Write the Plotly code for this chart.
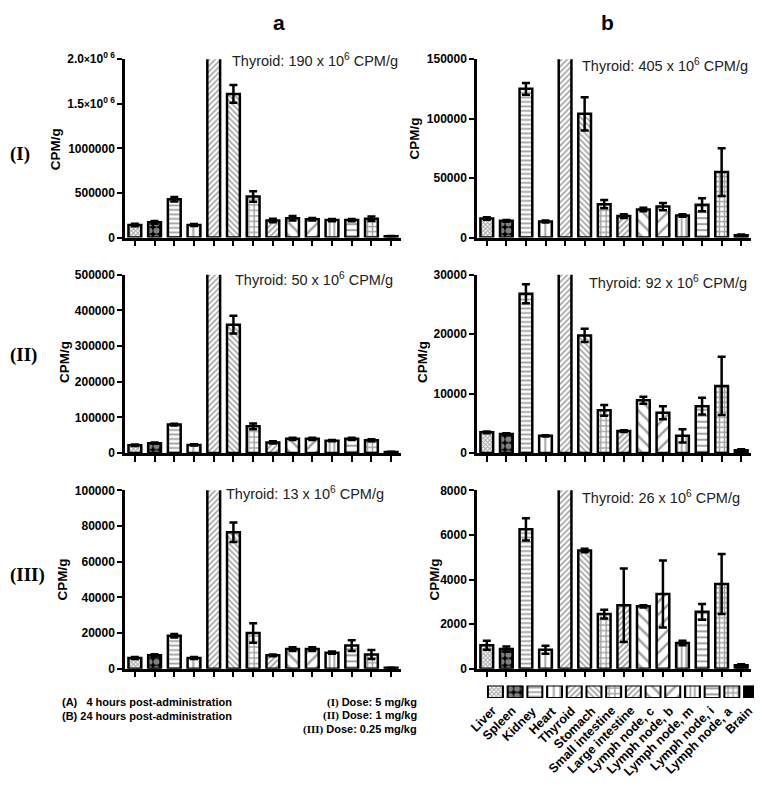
import plotly.graph_objects as go

# ---------------- data ----------------
organs = ["Liver", "Spleen", "Kidney", "Heart", "Thyroid", "Stomach", "Small intestine",
          "Large intestine", "Lymph node, c", "Lymph node, b", "Lymph node, m",
          "Lymph node, i", "Lymph node, a", "Brain"]

a_I_mean = [140000, 170000, 430000, 140000, 190e6, 1610000, 460000, 190000, 215000, 205000, 195000, 195000, 210000, 15000]
a_I_err = [15000, 15000, 25000, 12000, 0, 100000, 60000, 20000, 25000, 15000, 12000, 12000, 25000, 3000]

b_I_mean = [16000, 14000, 125000, 13500, 405e6, 104000, 28000, 18000, 23500, 26000, 18500, 27500, 55000, 2000]
b_I_err = [1000, 800, 5000, 800, 0, 14000, 3500, 1500, 1500, 3000, 1000, 5500, 20000, 500]

a_II_mean = [22000, 28000, 80000, 23000, 50e6, 360000, 75000, 30000, 40000, 40000, 35000, 40000, 36000, 3000]
a_II_err = [2000, 2000, 2500, 2000, 0, 25000, 8000, 3000, 3000, 3000, 2000, 3000, 3000, 500]

b_II_mean = [3500, 3200, 26800, 2900, 92e6, 19800, 7200, 3700, 8900, 6800, 2900, 7900, 11300, 500]
b_II_err = [150, 150, 1600, 100, 0, 1100, 900, 150, 600, 1100, 1100, 1400, 4900, 150]

a_III_mean = [6000, 7500, 18500, 6000, 13e6, 76500, 20000, 7500, 11000, 11000, 9000, 13000, 8000, 500]
a_III_err = [500, 600, 1000, 500, 0, 5500, 5500, 500, 1000, 1000, 600, 3000, 2500, 100]

b_III_mean = [1050, 880, 6250, 850, 26e6, 5300, 2450, 2850, 2800, 3350, 1150, 2550, 3800, 150]
b_III_err = [200, 120, 500, 180, 0, 80, 200, 1650, 50, 1500, 100, 350, 1350, 50]

a_I_ticks = [0, 500000, 1000000, 1500000, 2000000]
a_I_ticktext = ["0", "500000", "1000000", "1.5<span style='font-size:10px'>×</span>10<sup>0 6</sup>",
                "2.0<span style='font-size:10px'>×</span>10<sup>0 6</sup>"]
b_I_ticks = [0, 50000, 100000, 150000]
a_II_ticks = [0, 100000, 200000, 300000, 400000, 500000]
b_II_ticks = [0, 10000, 20000, 30000]
a_III_ticks = [0, 20000, 40000, 60000, 80000, 100000]
b_III_ticks = [0, 2000, 4000, 6000, 8000]

thyroid_text = ["Thyroid: 190 x 10<sup>6</sup> CPM/g", "Thyroid: 405 x 10<sup>6</sup> CPM/g",
                "Thyroid: 50 x 10<sup>6</sup> CPM/g", "Thyroid: 92 x 10<sup>6</sup> CPM/g",
                "Thyroid: 13 x 10<sup>6</sup> CPM/g", "Thyroid: 26 x 10<sup>6</sup> CPM/g"]

# ---------------- styling ----------------
W, H = 762, 801
OFF = 8  # page body margin: figure is drawn 8px right/down in the window
SANS = "Liberation Sans, Arial, sans-serif"
SERIF = "Liberation Serif, Times New Roman, serif"


def px(x):
    return min(max((x - OFF) / W, 0.0), 1.0)


def py(y):
    return min(max(1 - (y - OFF) / H, 0.0), 1.0)


pat_shape = ["x", ".", "-", "|", "/", "\\", "+", "/", "\\", "/", "|", "-", "+", ""]
pat_size = [3, 7, 4.5, 6.5, 4, 4, 5.5, 4, 9, 9, 4.5, 6, 5, 5]
pat_solid = [0.55, 0.6, 0.4, 0.3, 0.4, 0.4, 0.47, 0.45, 0.28, 0.28, 0.4, 0.35, 0.5, 0.3]
pat_fg = ["black", "white", "black", "black", "#222", "#222", "black", "#777", "black", "black",
          "black", "black", "black", "black"]
bar_color = ["white", "black"] + ["white"] * 11 + ["black"]

col_x = [(125, 401), (477, 751)]
row_y = [(51, 233), (271, 453), (491, 673)]

panels = [
    (0, 0, a_I_mean, a_I_err, [0, 2000000], a_I_ticks, a_I_ticktext),
    (1, 0, b_I_mean, b_I_err, [0, 150000], b_I_ticks, None),
    (0, 1, a_II_mean, a_II_err, [0, 500000], a_II_ticks, None),
    (1, 1, b_II_mean, b_II_err, [0, 30000], b_II_ticks, None),
    (0, 2, a_III_mean, a_III_err, [0, 100000], a_III_ticks, None),
    (1, 2, b_III_mean, b_III_err, [0, 8000], b_III_ticks, None),
]

fig = go.Figure()
layout = {}
for k, (c, r, mean, err, yr, tv, tt) in enumerate(panels, start=1):
    xs = "x" if k == 1 else f"x{k}"
    ys = "y" if k == 1 else f"y{k}"
    fig.add_trace(go.Bar(
        x=organs, y=mean, xaxis=xs, yaxis=ys, width=0.65,
        marker=dict(color=bar_color, line=dict(color="black", width=2.5),
                    pattern=dict(shape=pat_shape, size=pat_size, solidity=pat_solid,
                                 fgcolor=pat_fg, fillmode="overlay")),
        error_y=dict(type="data", array=err, visible=True, color="black", thickness=2.5, width=4),
        showlegend=False, hoverinfo="x+y",
    ))
    x0, x1 = col_x[c]
    y0, y1 = row_y[r]
    layout[f"xaxis{'' if k == 1 else k}"] = dict(
        domain=[px(x0), px(x1)], anchor=ys, type="category", categoryorder="array",
        categoryarray=organs, range=[-0.5, 13.5], showline=True, linecolor="black", linewidth=2.5,
        ticks="outside", ticklen=6, tickwidth=2, tickcolor="black", showticklabels=False,
        showgrid=False, zeroline=False, fixedrange=True)
    layout[f"yaxis{'' if k == 1 else k}"] = dict(
        domain=[py(y1), py(y0)], anchor=xs, range=yr, showline=True, linecolor="black",
        linewidth=2.5, ticks="outside", ticklen=5, tickwidth=2, tickcolor="black",
        tickvals=tv, ticktext=tt if tt else [str(v) for v in tv],
        tickfont=dict(family=SANS, size=12, color="black", weight="bold"),
        showgrid=False, zeroline=False, fixedrange=True)

# legend strip (patterned boxes); names placed as rotated annotations below
fig.add_trace(go.Bar(
    x=organs, y=[1] * 14, xaxis="x7", yaxis="y7", width=0.76,
    marker=dict(color=bar_color, line=dict(color="black", width=2),
                pattern=dict(shape=pat_shape, size=pat_size, solidity=pat_solid,
                             fgcolor=pat_fg, fillmode="overlay")),
    showlegend=False, hoverinfo="x"))
LEG_X0, LEG_STEP = 485.6, 19.7
layout["xaxis7"] = dict(domain=[px(LEG_X0), px(LEG_X0 + 14 * LEG_STEP)], anchor="y7",
                        type="category", categoryorder="array", categoryarray=organs,
                        range=[-0.5, 13.5], visible=False, fixedrange=True)
layout["yaxis7"] = dict(domain=[py(703), py(690)], anchor="x7", range=[0, 1], visible=False,
                        fixedrange=True)

ann = []
for i, name in enumerate(organs):
    cx = LEG_X0 + LEG_STEP * (i + 0.5)
    ann.append(dict(x=px(cx + 7), y=py(706), xref="paper", yref="paper", text=name,
                    showarrow=False, textangle=-45, xanchor="right", yanchor="top",
                    font=dict(family=SANS, size=12.5, color="black", weight="bold")))
# thyroid notes
th_pos = [(230, 52), (580, 57), (233, 275), (587, 278), (224, 494), (580, 498)]
for (x, y), t in zip(th_pos, thyroid_text):
    ann.append(dict(x=px(x), y=py(y), xref="paper", yref="paper", text=t, showarrow=False,
                    xanchor="left", yanchor="middle",
                    font=dict(family=SANS, size=14.5, color="#222")))
# y axis titles
yt_pos = [(55, 143), (415, 132), (65, 360), (423, 360), (63, 582), (435, 582)]
for x, y in yt_pos:
    ann.append(dict(x=px(x), y=py(y), xref="paper", yref="paper", text="CPM/g", showarrow=False,
                    textangle=-90, xanchor="center", yanchor="middle",
                    font=dict(family=SANS, size=13.5, color="black", weight="bold")))
# row labels
for t, y in [("(I)", 148), ("(II)", 353), ("(III)", 577)]:
    ann.append(dict(x=px(8), y=py(y), xref="paper", yref="paper", text=t, showarrow=False,
                    xanchor="left", yanchor="middle",
                    font=dict(family=SERIF, size=19, color="black", weight="bold")))
# column titles
for t, x in [("a", 279), ("b", 607)]:
    ann.append(dict(x=px(x), y=py(14), xref="paper", yref="paper", text=t, showarrow=False,
                    xanchor="center", yanchor="middle",
                    font=dict(family=SANS, size=21, color="black", weight="bold")))
# footnotes
foot = [("(A)   4 hours post-administration", 60, 707),
        ("(B) 24 hours post-administration", 60, 721)]
for t, x, y in foot:
    ann.append(dict(x=px(x), y=py(y), xref="paper", yref="paper", text=t, showarrow=False,
                    xanchor="left", yanchor="middle",
                    font=dict(family=SANS, size=11, color="black", weight="bold")))
dose = [("(I)", " Dose: 5 mg/kg", 707), ("(II)", " Dose: 1 mg/kg", 721),
        ("(III)", " Dose: 0.25 mg/kg", 735)]
for r, t, y in dose:
    txt = f"<span style='font-family:{SERIF}'>{r}</span>{t}"
    ann.append(dict(x=px(419), y=py(y), xref="paper", yref="paper", text=txt, showarrow=False,
                    xanchor="right", yanchor="middle",
                    font=dict(family=SANS, size=11, color="black", weight="bold")))

fig.update_layout(width=W, height=H, margin=dict(l=0, r=0, t=0, b=0),
                  plot_bgcolor="white", paper_bgcolor="white", showlegend=False,
                  bargap=0.3, annotations=ann, **layout)

fig.write_html("out.html")
